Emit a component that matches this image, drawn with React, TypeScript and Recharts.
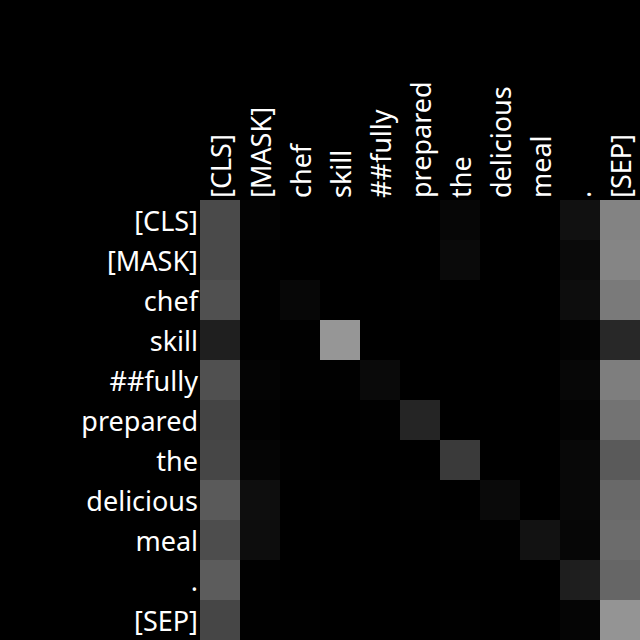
import React from "react";
import { ScatterChart, Scatter, XAxis, YAxis } from "recharts";

const tokens = ["[CLS]", "[MASK]", "chef", "skill", "##fully", "prepared", "the", "delicious", "meal", ".", "[SEP]"];

const rowCLS = [0.29, 0.01, 0, 0, 0, 0, 0.025, 0, 0, 0.067, 0.515];
const rowMASK = [0.29, 0.005, 0, 0, 0, 0, 0.04, 0, 0, 0.04, 0.52];
const rowChef = [0.315, 0.005, 0.027, 0, 0, 0.003, 0, 0, 0, 0.05, 0.48];
const rowSkill = [0.12, 0.003, 0.002, 0.59, 0, 0, 0, 0, 0, 0.012, 0.155];
const rowFully = [0.315, 0.016, 0.003, 0.002, 0.04, 0, 0, 0, 0, 0.027, 0.495];
const rowPrepared = [0.267, 0.008, 0, 0, 0.002, 0.145, 0, 0, 0, 0.016, 0.45];
const rowThe = [0.275, 0.02, 0.003, 0, 0, 0, 0.227, 0, 0, 0.03, 0.353];
const rowDelicious = [0.353, 0.055, 0, 0.004, 0, 0.004, 0, 0.04, 0, 0.03, 0.41];
const rowMeal = [0.3, 0.05, 0, 0, 0, 0, 0.004, 0.004, 0.07, 0.024, 0.424];
const rowDot = [0.36, 0.004, 0, 0, 0, 0, 0, 0, 0, 0.118, 0.4];
const rowSEP = [0.275, 0.004, 0.002, 0, 0, 0, 0.004, 0, 0, 0.02, 0.58];

const attention = [rowCLS, rowMASK, rowChef, rowSkill, rowFully, rowPrepared, rowThe, rowDelicious, rowMeal, rowDot, rowSEP];

const tickIdx = tokens.map((_, i) => i);

const cells = attention.flatMap((row, r) => row.map((v, c) => ({ x: c, y: r, v })));

const W = 640;
const H = 640;
const LABEL = 200;
const N = tokens.length;
const cellW = (W - LABEL) / N;
const cellH = (H - LABEL) / N;
const FONT = "'Noto Sans', 'Open Sans', sans-serif";
const FS = 27;

const gray = (v: number) => {
  const g = Math.max(0, Math.min(255, Math.round(v * 255)));
  return `rgb(${g},${g},${g})`;
};

const CellShape = (props: any) => {
  const { cx, cy, payload } = props;
  return (
    <rect
      x={cx - cellW / 2}
      y={cy - cellH / 2}
      width={cellW}
      height={cellH}
      fill={gray(payload.v)}
      stroke="none"
    />
  );
};

const XTick = (props: any) => {
  const { x, y, payload } = props;
  return (
    <text
      x={x}
      y={y}
      transform={`rotate(-90, ${x}, ${y})`}
      textAnchor="start"
      dominantBaseline="central"
      fill="#ffffff"
      fontSize={FS}
      fontFamily={FONT}
    >
      {tokens[payload.value]}
    </text>
  );
};

const YTick = (props: any) => {
  const { x, y, payload } = props;
  return (
    <text
      x={x}
      y={y}
      textAnchor="end"
      dominantBaseline="central"
      fill="#ffffff"
      fontSize={FS}
      fontFamily={FONT}
    >
      {tokens[payload.value]}
    </text>
  );
};

export default function App() {
  return (
    <div style={{ position: "absolute", left: 0, top: 0, width: W, height: H, background: "#000" }}>
      <ScatterChart width={W} height={H} margin={{ top: 0, right: 0, bottom: 0, left: 0 }}>
        <XAxis
          type="number"
          dataKey="x"
          orientation="top"
          domain={[-0.5, N - 0.5]}
          ticks={tickIdx}
          interval={0}
          height={LABEL}
          tickSize={0}
          tickMargin={2}
          axisLine={false}
          tickLine={false}
          tick={<XTick />}
          allowDataOverflow
        />
        <YAxis
          type="number"
          dataKey="y"
          reversed
          domain={[-0.5, N - 0.5]}
          ticks={tickIdx}
          interval={0}
          width={LABEL}
          tickSize={0}
          tickMargin={2}
          axisLine={false}
          tickLine={false}
          tick={<YTick />}
          allowDataOverflow
        />
        <Scatter data={cells} shape={<CellShape />} isAnimationActive={false} />
      </ScatterChart>
    </div>
  );
}
